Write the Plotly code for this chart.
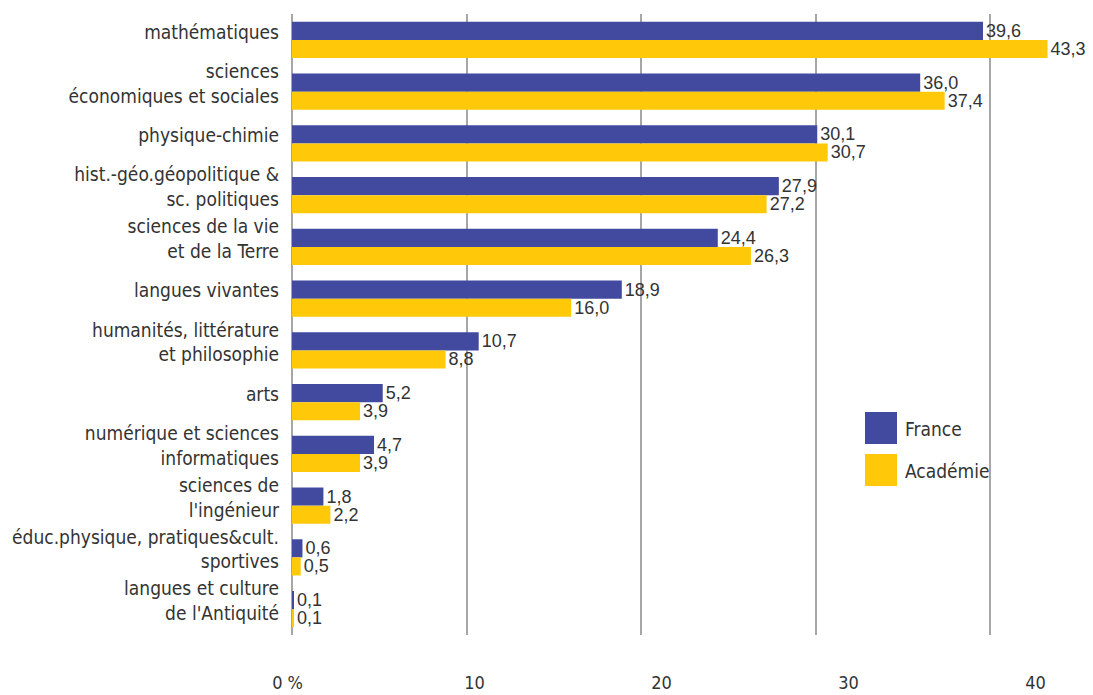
import plotly.graph_objects as go

categories = [
    "mathématiques",
    "sciences<br>économiques et sociales",
    "physique-chimie",
    "hist.-géo.géopolitique &<br>sc. politiques",
    "sciences de la vie<br>et de la Terre",
    "langues vivantes",
    "humanités, littérature<br>et philosophie",
    "arts",
    "numérique et sciences<br>informatiques",
    "sciences de<br>l'ingénieur",
    "éduc.physique, pratiques&cult.<br>sportives",
    "langues et culture<br>de l'Antiquité",
]
france = [39.6, 36.0, 30.1, 27.9, 24.4, 18.9, 10.7, 5.2, 4.7, 1.8, 0.6, 0.1]
academie = [43.3, 37.4, 30.7, 27.2, 26.3, 16.0, 8.8, 3.9, 3.9, 2.2, 0.5, 0.1]
series_names = ["France", "Académie"]
tick_vals = [0, 10, 20, 30, 40]
tick_text = ["0 %", "10", "20", "30", "40"]

col_fr = "#414A9E"
col_ac = "#FFC90A"
cond_font = "Liberation Sans Narrow, DejaVu Sans Condensed, Roboto, sans-serif"
val_font = "Liberation Sans, Arial, sans-serif"

def fmt(v):
    return f"{v:.1f}".replace(".", ",")

fig = go.Figure()
for vals, name, col in [(france, series_names[0], col_fr), (academie, series_names[1], col_ac)]:
    fig.add_trace(go.Bar(
        y=categories, x=vals, name=name, orientation="h",
        marker=dict(color=col, line=dict(width=0)),
        text=[fmt(v) for v in vals], textposition="outside", cliponaxis=False,
        constraintext="none",
        textfont=dict(family=val_font, size=18, color="#333333"),
        showlegend=False,
    ))
# invisible trace to host the label axis
fig.add_trace(go.Scatter(x=[None], y=[None], xaxis="x2", yaxis="y",
                         showlegend=False, hoverinfo="skip", mode="markers"))

# page body has an 8px margin: figure starts at page (8, 8)
OFF = 8
W, H = 1093 - OFF, 695 - OFF
# paper in page pixels: x 280..1073, y 14..670
L, R, T, B = 280 - OFF, 20, 14 - OFF, H - (670 - OFF)
PW = W - L - R
PH = H - T - B

def px_x(p):
    return (p - OFF - L) / PW

def px_y(p):
    return 1 - (p - OFF - T) / PH

fig.update_layout(
    template="none",
    width=W, height=H,
    margin=dict(l=L, r=R, t=T, b=B, autoexpand=False),
    paper_bgcolor="white",
    plot_bgcolor="rgba(0,0,0,0)",
    barmode="group", bargap=0.30, bargroupgap=0,
    font=dict(family=cond_font, color="#333333", size=17),
    xaxis=dict(
        range=[0, 44], domain=[px_x(292), px_x(292 + 44 * 17.45)],
        tickvals=tick_vals, showticklabels=False, automargin=False,
        showgrid=True, gridcolor="#A6A6A6", gridwidth=2,
        zeroline=True, zerolinecolor="#A6A6A6", zerolinewidth=2,
        showline=False, ticks="",
    ),
    xaxis2=dict(
        range=[0, 40], domain=[px_x(287.6), px_x(1035.6)],
        anchor="free", position=0, automargin=False,
        tickvals=tick_vals, ticktext=tick_text,
        showgrid=False, zeroline=False, showline=False, ticks="",
        tickfont=dict(family=cond_font, size=18, color="#333333"),
    ),
    yaxis=dict(
        autorange="reversed", domain=[px_y(635), 1], automargin=False,
        showgrid=False, zeroline=False, showline=False, ticks="",
        ticklabelstandoff=12, ticklabelshift=8,
        tickfont=dict(family=cond_font, size=19, color="#333333"),
    ),
)

# legend built from squares + text
for i, (name, col) in enumerate(zip(series_names, [col_fr, col_ac])):
    y0 = 412 + i * 42
    fig.add_shape(type="rect", xref="paper", yref="paper",
                  x0=px_x(865), x1=px_x(897), y0=px_y(y0 + 32), y1=px_y(y0),
                  fillcolor=col, line=dict(width=0))
    fig.add_annotation(xref="paper", yref="paper", x=px_x(903), y=px_y(y0 + 17),
                       text=name, showarrow=False, xanchor="left", yanchor="middle",
                       font=dict(family=cond_font, size=19, color="#333333"))

fig.write_html("out.html")
